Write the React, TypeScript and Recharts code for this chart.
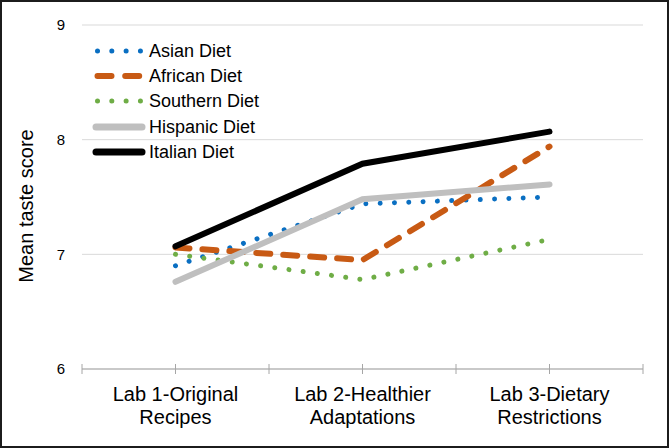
import { LineChart, Line, XAxis, YAxis, CartesianGrid, Label } from 'recharts';

const categories = ['Lab 1-Original Recipes', 'Lab 2-Healthier Adaptations', 'Lab 3-Dietary Restrictions'];
const labelTop = ['Lab 1-Original', 'Lab 2-Healthier', 'Lab 3-Dietary'];
const labelBottom = ['Recipes', 'Adaptations', 'Restrictions'];

const asian = [6.9, 7.44, 7.5];
const african = [7.06, 6.95, 7.94];
const southern = [7.0, 6.78, 7.13];
const hispanic = [6.76, 7.48, 7.61];
const italian = [7.07, 7.79, 8.07];

const yTicks = [6, 7, 8, 9];

const FONT = '"Liberation Sans", Arial, sans-serif';

const series = [
  { key: 'asian', name: 'Asian Diet', color: '#0A6FC2', width: 5, dash: '0.01 14.3', legendDash: '0.01 14.3' },
  { key: 'african', name: 'African Diet', color: '#C85A14', width: 6, dash: '14 13', legendDash: '14 13.7' },
  { key: 'southern', name: 'Southern Diet', color: '#6FAD46', width: 5, dash: '0.01 14.3', legendDash: '0.01 14.3' },
  { key: 'hispanic', name: 'Hispanic Diet', color: '#BFBFBF', width: 6, dash: undefined, legendDash: undefined },
  { key: 'italian', name: 'Italian Diet', color: '#000000', width: 6, dash: undefined, legendDash: undefined },
];

const data = categories.map((c, i) => ({
  category: c,
  asian: asian[i],
  african: african[i],
  southern: southern[i],
  hispanic: hispanic[i],
  italian: italian[i],
}));

const HALF_BAND = 93.5;

function CategoryTick(props: any) {
  const { x, y, index } = props;
  const last = index === categories.length - 1;
  return (
    <g>
      <line x1={x - HALF_BAND} x2={x - HALF_BAND} y1={y - 5} y2={y + 5} stroke="#a6a6a6" />
      <line x1={x} x2={x} y1={y - 5} y2={y + 5} stroke="#a6a6a6" />
      {last && <line x1={x + HALF_BAND} x2={x + HALF_BAND} y1={y - 5} y2={y + 5} stroke="#a6a6a6" />}
      <text x={x} y={y + 32} textAnchor="middle" fontSize={20} fontFamily={FONT} fill="#000">
        {labelTop[index]}
      </text>
      <text x={x} y={y + 55} textAnchor="middle" fontSize={20} fontFamily={FONT} fill="#000">
        {labelBottom[index]}
      </text>
    </g>
  );
}

function ChartLegend() {
  return (
    <div style={{ position: 'absolute', left: 92, top: 38, fontFamily: FONT, fontSize: 18, color: '#000' }}>
      {series.map((s) => (
        <div key={s.key} style={{ display: 'flex', alignItems: 'center', height: 25.3 }}>
          <svg width={56} height={12} style={{ display: 'block' }}>
            <line
              x1={s.legendDash ? 5.5 : 4}
              x2={s.legendDash ? 49 : 50}
              y1={6}
              y2={6}
              stroke={s.color}
              strokeWidth={s.width + (s.legendDash ? 0 : 1)}
              strokeDasharray={s.legendDash}
              strokeLinecap="round"
            />
          </svg>
          <span style={{ marginLeft: 1, lineHeight: '20px' }}>{s.name}</span>
        </div>
      ))}
    </div>
  );
}

export default function App() {
  return (
    <div
      style={{
        position: 'absolute',
        left: 0,
        top: 0,
        width: 669,
        height: 448,
        boxSizing: 'border-box',
        border: '2px solid #1c1c1c',
        background: '#fff',
      }}
    >
      <div style={{ position: 'absolute', left: -2, top: -2 }}>
        <LineChart width={669} height={448} data={data} margin={{ top: 25, right: 26, bottom: 49, left: 0 }}>
          <CartesianGrid vertical={false} stroke="#d9d9d9" />
          <XAxis
            dataKey="category"
            height={30}
            padding={{ left: HALF_BAND, right: HALF_BAND }}
            axisLine={{ stroke: '#a6a6a6' }}
            tickLine={false}
            tickSize={0}
            tickMargin={0}
            interval={0}
            tick={<CategoryTick />}
          />
          <YAxis
            domain={[6, 9]}
            ticks={yTicks}
            width={82}
            axisLine={false}
            tickLine={false}
            tickSize={0}
            tickMargin={17}
            tick={{ fill: '#000', fontSize: 15, fontFamily: FONT }}
          >
            <Label
              content={() => (
                <text
                  x={33}
                  y={206}
                  transform="rotate(-90 33 206)"
                  textAnchor="middle"
                  fontSize={20}
                  fontFamily={FONT}
                  fill="#000"
                >
                  Mean taste score
                </text>
              )}
            />
          </YAxis>
          {series.map((s) => (
            <Line
              key={s.key}
              type="linear"
              dataKey={s.key}
              name={s.name}
              stroke={s.color}
              strokeWidth={s.width}
              strokeDasharray={s.dash}
              strokeLinecap="round"
              dot={false}
              activeDot={false}
              isAnimationActive={false}
            />
          ))}
        </LineChart>
        <ChartLegend />
      </div>
    </div>
  );
}
